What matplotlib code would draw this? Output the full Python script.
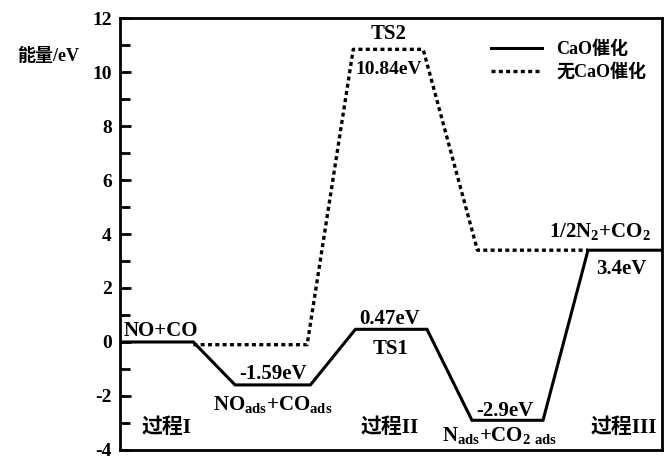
import matplotlib
matplotlib.use("Agg")
import matplotlib.pyplot as plt
from matplotlib.ticker import MultipleLocator

plt.rcParams['font.family'] = ['Liberation Serif', 'Noto Sans CJK SC']
plt.rcParams['mathtext.fontset'] = 'custom'
plt.rcParams['mathtext.rm'] = 'Liberation Serif:bold'
plt.rcParams['mathtext.bf'] = 'Liberation Serif:bold'
plt.rcParams['axes.unicode_minus'] = False

# reaction path positions (arbitrary units along the path) and energies in eV
x_cao = [0, 1.35, 2.12, 3.51, 4.34, 5.66, 6.49, 7.80, 8.63, 10]
e_cao = [0, 0, -1.59, -1.59, 0.47, 0.47, -2.9, -2.9, 3.4, 3.4]

x_no_cao = [1.35, 3.45, 4.30, 5.59, 6.59, 8.63]
e_no_cao = [-0.1, -0.1, 10.84, 10.84, 3.4, 3.4]

yticks = [-4, -2, 0, 2, 4, 6, 8, 10, 12]

fig = plt.figure(figsize=(6.71, 4.62), dpi=100)
ax = fig.add_axes([0.179, 0.026, 0.808, 0.935])

ax.plot(x_cao, e_cao, color='black', lw=2.2, solid_joinstyle='miter', label='CaO催化')
ax.plot(x_no_cao, e_no_cao, color='black', lw=2.4, linestyle=(0, (1.2, 1.0)), label='无CaO催化')

ax.set_xlim(0, 10)
ax.set_ylim(-4, 12)
ax.set_xticks([])
ax.set_yticks(yticks)
ax.yaxis.set_minor_locator(MultipleLocator(1))
ax.tick_params(axis='y', which='major', direction='in', length=8, width=2, labelsize=14, pad=6)
ax.tick_params(axis='y', which='minor', direction='in', length=7, width=2)
for lab in ax.get_yticklabels():
    lab.set_fontweight('bold')
for s in ax.spines.values():
    s.set_linewidth(2)

ax.text(-0.133, 0.91, '能量/eV', transform=ax.transAxes, fontsize=13, fontweight='bold', ha='center', va='center')

leg = ax.legend(loc='upper right', bbox_to_anchor=(1.0, 0.985), frameon=False, fontsize=13,
                handlelength=2.8, labelspacing=0.3)
for t in leg.get_texts():
    t.set_fontweight('bold')

kw = dict(fontsize=15, fontweight='bold', ha='center', va='center')
ax.text(0.75, 0.4, 'NO+CO', **kw)
ax.text(2.82, -1.2, '-1.59eV', **kw)
ax.text(2.82, -2.35, r'NO$_{\rm ads}$+CO$_{\rm ads}$', **kw)
ax.text(0.85, -3.2, '过程I', **kw)
ax.text(4.98, 0.85, '0.47eV', **kw)
ax.text(4.98, -0.25, 'TS1', **kw)
ax.text(4.98, -3.2, '过程II', **kw)
ax.text(4.95, 11.4, 'TS2', **kw)
ax.text(4.95, 10.1, '10.84eV', fontsize=14, fontweight='bold', ha='center', va='center')
ax.text(7.1, -2.55, '-2.9eV', **kw)
ax.text(7.0, -3.5, r'N$_{\rm ads}$+CO$_{\rm 2\ ads}$', **kw)
ax.text(9.3, -3.2, '过程III', **kw)
ax.text(8.85, 4.05, r'1/2N$_2$+CO$_2$', **kw)
ax.text(9.25, 2.7, '3.4eV', **kw)

fig.savefig('out.png', dpi=100)
